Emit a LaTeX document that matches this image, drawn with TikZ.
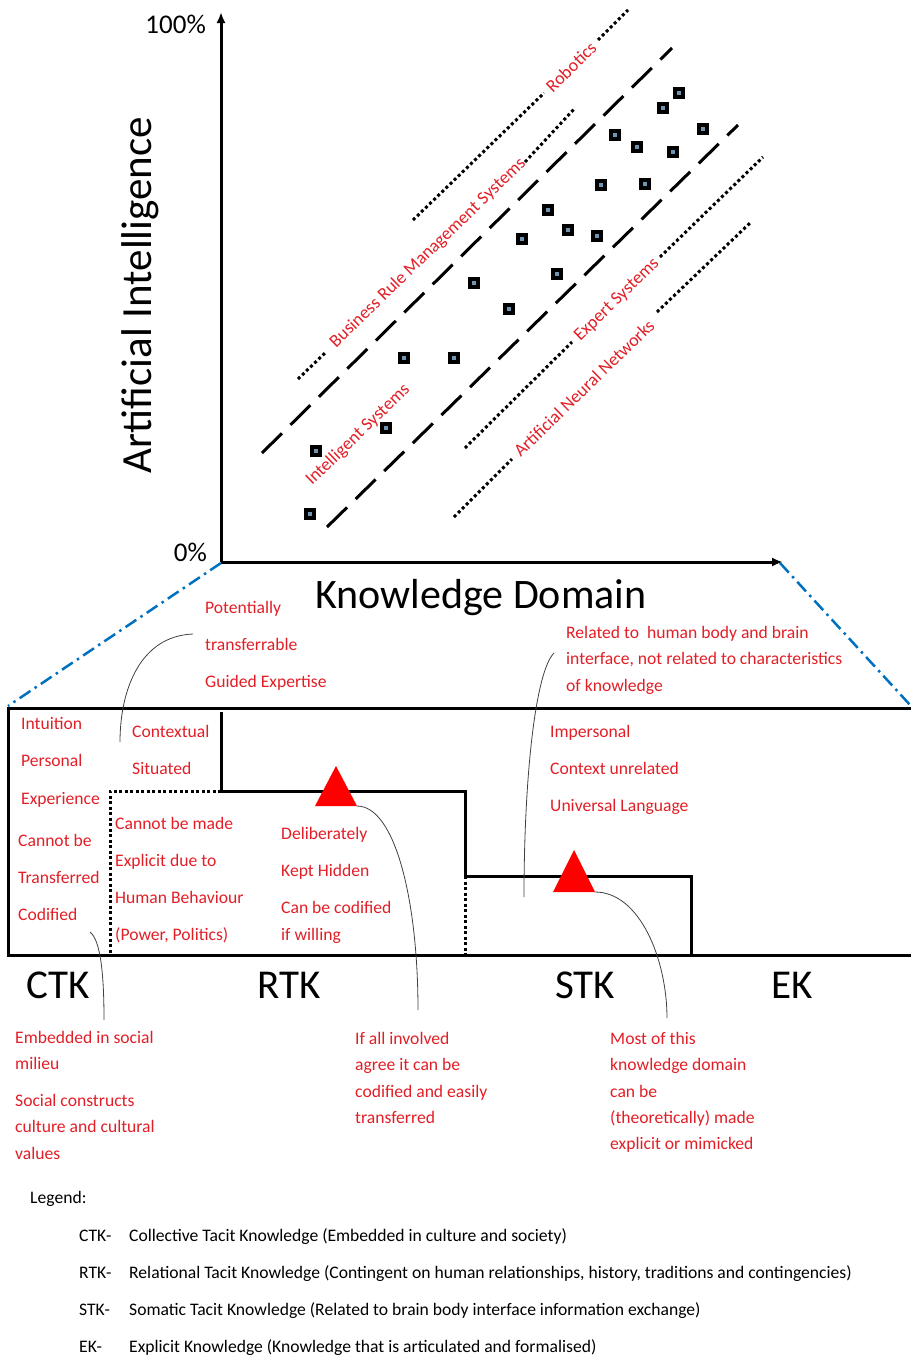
\documentclass[tikz,border=0pt]{standalone}
\usepackage{fontspec}
\setmainfont{Carlito}
\usetikzlibrary{arrows.meta}
\definecolor{tred}{RGB}{226,30,38}
\definecolor{tblue}{RGB}{0,112,192}
\definecolor{mkin}{RGB}{110,150,180}
\begin{document}
\begin{tikzpicture}[x=1pt,y=-1pt,
  redtxt/.style={text=tred,font=\fontsize{17.6}{20}\selectfont,anchor=base west,inner sep=0},
  blacktxt/.style={text=black,font=\fontsize{17.6}{20}\selectfont,anchor=base west,inner sep=0},
  chartlbl/.style={text=tred,font=\fontsize{18}{21}\selectfont,rotate=44,inner sep=0},
  bigtxt/.style={font=\fontsize{41}{48}\selectfont,inner sep=0,anchor=base},
  axis/.style={line width=3pt,-{Latex[length=11pt,width=9pt]}},
  dotline/.style={line width=3pt,dash pattern=on 3pt off 2.7pt},
  dashline/.style={line width=3pt,dash pattern=on 28pt off 12pt},
  boxline/.style={line width=3pt},
  boxdot/.style={line width=3pt,dash pattern=on 3pt off 2.5pt},
  bluedd/.style={tblue,line width=2.5pt,dash pattern=on 13pt off 5pt on 2.5pt off 5pt},
  callout/.style={line width=0.8pt,draw=black!75},
  mk/.style={draw=black,fill=mkin,line width=3.5pt,minimum size=8pt,inner sep=0,rectangle},
  tri/.style={fill=red,draw=none}
]
\useasboundingbox (0,0) rectangle (911,1358);

% axes
\coordinate (O) at (221,562);
\coordinate (Ytop) at (221,12);
\coordinate (Xend) at (783,562);
\draw[axis] (O) -- (Ytop);
\draw[axis] (O) -- (Xend);
\node[font=\fontsize{27}{30}\selectfont,anchor=base east,inner sep=0] (p100) at (206,33) {100\%};
\node[font=\fontsize{27}{30}\selectfont,anchor=base east,inner sep=0] (p0) at (207,561) {0\%};
\node[font=\fontsize{43}{48}\selectfont,rotate=90,inner sep=0] (ai) at (140,295) {Artificial Intelligence};
\node[bigtxt,font=\fontsize{42}{48}\selectfont] (kd) at (481,608) {Knowledge Domain};

% dashed lines
\draw[dashline] (262,453) -- (672,48);
\draw[dashline] (327,527) -- (738,125);

% dotted lines with labels
\draw[dotline] (413,220) -- (544,93);
\draw[dotline] (598,40) -- (628,10);
\node[chartlbl] (rob) at (571,67) {Robotics};
\draw[dotline] (298,379) -- (326,352);
\draw[dotline] (525,162) -- (575,108);
\node[chartlbl] (brms) at (428,253) {Business Rule Management Systems};
\draw[dotline] (465,448) -- (572,342);
\draw[dotline] (660,257) -- (763,157);
\node[chartlbl] (es) at (617,300) {Expert Systems};
\draw[dotline] (454,517) -- (512,459);
\draw[dotline] (657,312) -- (750,223);
\node[chartlbl] (ann) at (584,388) {Artificial Neural Networks};
\node[chartlbl] (is) at (358,435) {Intelligent Systems};

% markers
\foreach \x/\y [count=\i] in {316/451,310/514,386/428,404/358,454/358,474/283,509/309,522/239,548/210,557/274,568/230,597/236,601/185,615/135,637/147,645/184,663/108,673/152,679/93,703/129}
  \node[mk] (m\i) at (\x,\y) {};

% blue dash-dot
\coordinate (BL) at (8,706);
\coordinate (BR) at (911,706);
\coordinate (Xa) at (780,563);
\draw[bluedd] (221,563) -- (BL);
\draw[bluedd] (Xa) -- (BR);

% box
\draw[boxline] (911,708) -- (8,708) -- (8,955) -- (911,955);
\draw[boxline] (221,712) -- (221,791) -- (465,791) -- (465,876) -- (691,876) -- (691,955);
\draw[boxdot] (221,791) -- (110,791) -- (110,955);
\draw[boxdot] (465,876) -- (465,955);

% triangles
\coordinate (t1r) at (357,806);
\coordinate (t2r) at (595,892);
\fill[tri] (336,766) -- (315,806) -- (t1r) -- cycle;
\fill[tri] (574,850) -- (553,892) -- (t2r) -- cycle;

% callout curves
\coordinate (c1a) at (193,634);
\coordinate (c1b) at (120,742);
\draw[callout] (c1a) .. controls (140,636) and (120,690) .. (c1b);
\coordinate (c2b) at (418,1010);
\draw[callout] (t1r) .. controls (395,806) and (418,900) .. (c2b);
\coordinate (c3a) at (90,932);
\coordinate (c3b) at (104,1020);
\draw[callout] (c3a) .. controls (100,940) and (104,970) .. (c3b);
\coordinate (c4a) at (554,653);
\coordinate (c4b) at (524,897);
\draw[callout] (c4a) .. controls (535,672) and (524,780) .. (c4b);
\coordinate (c5b) at (667,1018);
\draw[callout] (t2r) .. controls (640,892) and (667,960) .. (c5b);

% red texts upper
\node[redtxt] (r1) at (205,613) {Potentially};
\node[redtxt] (r2) at (205,650) {transferrable};
\node[redtxt] (r3) at (205,687) {Guided Expertise};
\node[redtxt] (r4) at (21,729) {Intuition};
\node[redtxt] (r5) at (21,766) {Personal};
\node[redtxt] (r6) at (21,804) {Experience};
\node[redtxt] (r7) at (18,846) {Cannot be};
\node[redtxt] (r8) at (18,883) {Transferred};
\node[redtxt] (r9) at (18,920) {Codified};
\node[redtxt] (r10) at (132,737) {Contextual};
\node[redtxt] (r11) at (132,774) {Situated};
\node[redtxt] (r12) at (115,829) {Cannot be made};
\node[redtxt] (r13) at (115,866) {Explicit due to};
\node[redtxt] (r14) at (115,903) {Human Behaviour};
\node[redtxt] (r15) at (115,940) {(Power, Politics)};
\node[redtxt] (r16) at (281,839) {Deliberately};
\node[redtxt] (r17) at (281,876) {Kept Hidden};
\node[redtxt] (r18) at (281,913) {Can be codified};
\node[redtxt] (r19) at (281,940) {if willing};
\node[redtxt] (r20) at (566,638) {Related to\ \ human body and brain};
\node[redtxt] (r21) at (566,664) {interface, not related to characteristics};
\node[redtxt] (r22) at (566,691) {of knowledge};
\node[redtxt] (r23) at (550,737) {Impersonal};
\node[redtxt] (r24) at (550,774) {Context unrelated};
\node[redtxt] (r25) at (550,811) {Universal Language};

% big labels
\node[bigtxt] (ctk) at (58,998) {CTK};
\node[bigtxt] (rtk) at (289,998) {RTK};
\node[bigtxt] (stk) at (585,998) {STK};
\node[bigtxt] (ek) at (792,998) {EK};

% red texts lower
\node[redtxt] (b1) at (15,1043) {Embedded in social};
\node[redtxt] (b2) at (15,1069) {milieu};
\node[redtxt] (b3) at (15,1106) {Social constructs};
\node[redtxt] (b4) at (15,1132) {culture and cultural};
\node[redtxt] (b5) at (15,1159) {values};
\node[redtxt] (b6) at (355,1044) {If all involved};
\node[redtxt] (b7) at (355,1070) {agree it can be};
\node[redtxt] (b8) at (355,1097) {codified and easily};
\node[redtxt] (b9) at (355,1123) {transferred};
\node[redtxt] (b10) at (610,1044) {Most of this};
\node[redtxt] (b11) at (610,1070) {knowledge domain};
\node[redtxt] (b12) at (610,1097) {can be};
\node[redtxt] (b13) at (610,1123) {(theoretically) made};
\node[redtxt] (b14) at (610,1149) {explicit or mimicked};

% legend
\node[blacktxt] (lg) at (30,1203) {Legend:};
\node[blacktxt] (l1a) at (79,1241) {CTK-};
\node[blacktxt] (l1b) at (129,1241) {Collective Tacit Knowledge (Embedded in culture and society)};
\node[blacktxt] (l2a) at (79,1278) {RTK-};
\node[blacktxt] (l2b) at (129,1278) {Relational Tacit Knowledge (Contingent on human relationships, history, traditions and contingencies)};
\node[blacktxt] (l3a) at (79,1315) {STK-};
\node[blacktxt] (l3b) at (129,1315) {Somatic Tacit Knowledge (Related to brain body interface information exchange)};
\node[blacktxt] (l4a) at (79,1352) {EK-};
\node[blacktxt] (l4b) at (129,1352) {Explicit Knowledge (Knowledge that is articulated and formalised)};
\end{tikzpicture}
\end{document}
